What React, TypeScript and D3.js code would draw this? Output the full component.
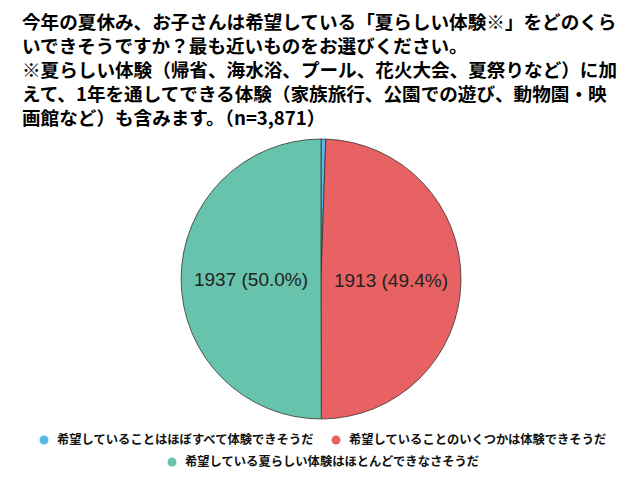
import React from 'react';
import * as d3 from 'd3';

const titleLines = [
  '今年の夏休み、お子さんは希望している「夏らしい体験※」をどのくら',
  'いできそうですか？最も近いものをお選びください。',
  '※夏らしい体験（帰省、海水浴、プール、花火大会、夏祭りなど）に加',
  'えて、1年を通してできる体験（家族旅行、公園での遊び、動物園・映',
  '画館など）も含みます。（n=3,871）',
];

const categories = [
  '希望していることはほぼすべて体験できそうだ',
  '希望していることのいくつかは体験できそうだ',
  '希望している夏らしい体験はほとんどできなさそうだ',
];
const counts = [21, 1913, 1937];
const percents = ['0.5%', '49.4%', '50.0%'];
const colors = ['#58b9e8', '#e86263', '#67c3ab'];

const width = 640;
const height = 483;
const cx = 321;
const cy = 279;
const radius = 140;

export default function App() {
  const pie = d3
    .pie<number>()
    .sort(null)
    .value((d) => d);
  const arcs = pie(counts);
  const arc = d3.arc<d3.PieArcDatum<number>>().innerRadius(0).outerRadius(radius);
  const labelArc = d3
    .arc<d3.PieArcDatum<number>>()
    .innerRadius(radius * 0.5)
    .outerRadius(radius * 0.5);

  const jp = '"Noto Sans CJK JP", "Noto Sans", sans-serif';

  // legend layout: two items on first row, one centered on second
  const legendRows = [
    { y: 440, items: [0, 1], xs: [44, 336] },
    { y: 462, items: [2], xs: [172] },
  ];

  return (
    <div style={{ position: 'absolute', left: 0, top: 0 }}>
      <svg width={width} height={height} style={{ display: 'block', background: '#fff' }}>
        <g fontFamily={jp} fontWeight="bold" fontSize={18.6} fill="#000">
          {titleLines.map((t, i) => (
            <text key={i} x={22} y={29 + i * 24}>
              {t}
            </text>
          ))}
        </g>
        <g transform={`translate(${cx},${cy})`}>
          {arcs.map((a, i) => (
            <path key={i} d={arc(a) || ''} fill={colors[i]} stroke="#333" strokeWidth={0.8} />
          ))}
          {arcs.map((a, i) => {
            if (counts[i] < 100) return null;
            const [x, y] = labelArc.centroid(a);
            return (
              <text
                key={i}
                x={x}
                y={y}
                dy="0.35em"
                textAnchor="middle"
                fontFamily='"Liberation Sans", Arial, sans-serif'
                fontSize={19}
                fill="#222"
              >
                {`${counts[i]} (${percents[i]})`}
              </text>
            );
          })}
        </g>
        <g fontFamily={jp} fontWeight="bold" fontSize={12.3} fill="#111">
          {legendRows.map((row, r) =>
            row.items.map((k, j) => (
              <g key={`${r}-${j}`} transform={`translate(${row.xs[j]},${row.y})`}>
                <circle cx={0} cy={0} r={4.5} fill={colors[k]} />
                <text x={13} y={0} dy="0.36em">
                  {categories[k]}
                </text>
              </g>
            ))
          )}
        </g>
      </svg>
    </div>
  );
}
